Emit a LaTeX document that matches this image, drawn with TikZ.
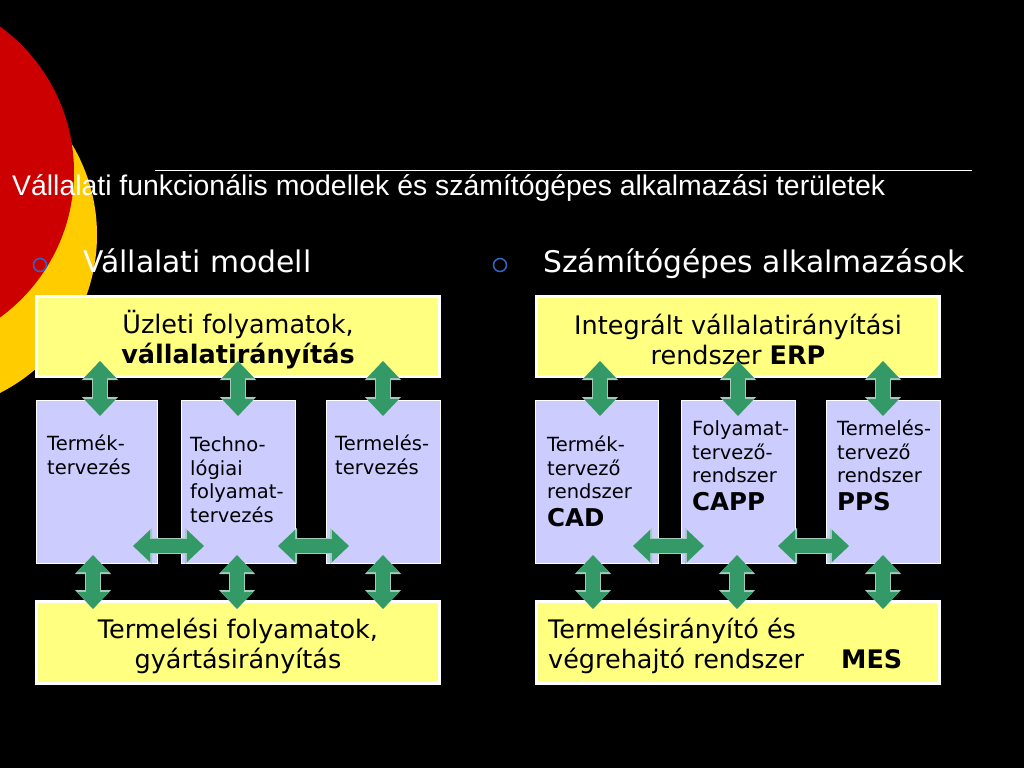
\documentclass[tikz,border=0pt]{standalone}
\usepackage{fontspec}
\setmainfont{DejaVu Sans}
\newfontfamily\titlefont{Liberation Sans}
\usetikzlibrary{arrows.meta,calc}
\definecolor{redc}{RGB}{204,0,0}
\definecolor{goldc}{RGB}{255,204,0}
\definecolor{boxy}{RGB}{255,255,128}
\definecolor{boxl}{RGB}{204,204,255}
\definecolor{arrg}{RGB}{51,153,102}
\definecolor{arre}{RGB}{160,205,185}
\definecolor{bulb}{RGB}{51,102,204}
\newcommand\fbig{\fontsize{25.5}{30}\selectfont}
\newcommand\fsm{\fontsize{19.5}{23.5}\selectfont}
\newcommand\facr{\fontsize{24.5}{24.5}\selectfont\bfseries}
\begin{document}
\begin{tikzpicture}[x=1pt,y=-1pt,
 ybox/.style={draw=white, line width=3pt, fill=boxy, inner sep=0, outer sep=0},
 lbox/.style={draw=white, line width=0.6pt, fill=boxl, inner sep=0, outer sep=0, minimum height=163pt},
 stxt/.style={inner sep=0, text=black, align=left, font=\fsm, anchor=base west},
 btxt/.style={inner sep=0, text=black, font=\fbig},
 biarr/.style={draw=arrg, line width=14pt,
   arrows={Triangle[length=17pt,width=31pt]-Triangle[length=17pt,width=31pt]},
   preaction={draw=arre, line width=16pt,
     arrows={Triangle[length=19pt,width=35pt]-Triangle[length=19pt,width=35pt]}}},
 bul/.style={circle, draw=bulb, line width=1.5pt, minimum size=13pt, inner sep=0},
]
\useasboundingbox (0,0) rectangle (1024,768);
\clip (0,0) rectangle (1024,768);
\fill[black] (0,0) rectangle (1024,768);
% decorative circles
\fill[goldc] (-80,235) circle[radius=177];
\fill[redc] (-106,172) circle[radius=180];

% title
\draw[white, line width=1pt] (155,170) -- (972,170);
\node[anchor=base west, inner sep=0, text=white, font={\titlefont\fontsize{28.4}{34}\selectfont}] (title) at (12,195)
  {Vállalati funkcionális modellek és számítógépes alkalmazási területek};

% bullets
\node[bul] (bul1) at (40,265) {};
\node[anchor=base west, inner sep=0, text=white, font={\fontsize{29.8}{34}\selectfont}] (bt1) at (83,272) {Vállalati modell};
\node[bul] (bul2) at (500,265) {};
\node[anchor=base west, inner sep=0, text=white, font={\fontsize{29.8}{34}\selectfont}] (bt2) at (543,272) {Számítógépes alkalmazások};

% ---------- left diagram ----------
\node[ybox, minimum width=403pt, minimum height=80pt] (tl) at (238,336.5) {};
\node[lbox, minimum width=121pt] (b1) at (96.5,481.5) {};
\node[lbox, minimum width=114pt] (b2) at (238,481.5) {};
\node[lbox, minimum width=114pt] (b3) at (383,481.5) {};
\node[ybox, minimum width=403pt, minimum height=82pt] (bl) at (238,642.5) {};

\node[btxt, align=center] (tlt) at ($(tl.center)+(0,3)$) {Üzleti folyamatok,\\\textbf{vállalatirányítás}};
\node[stxt] (b1t) at ($(b1.north west)+(11,74)$) {Termék-\\tervezés};
\node[stxt] (b2t) at ($(b2.north west)+(9,122)$) {Techno-\\lógiai\\folyamat-\\tervezés};
\node[stxt] (b3t) at ($(b3.north west)+(9,74)$) {Termelés-\\tervezés};
\node[btxt, align=center] (blt) at ($(bl.center)+(0,3)$) {Termelési folyamatok,\\gyártásirányítás};

\draw[biarr] ($(tl.south -| b1.north)+(3.5,-15.5)$) -- ($(b1.north)+(3.5,16)$);
\draw[biarr] ($(tl.south -| b2.north)+(0,-15.5)$) -- ($(b2.north)+(0,16)$);
\draw[biarr] ($(tl.south -| b3.north)+(0,-15.5)$) -- ($(b3.north)+(0,16)$);
\draw[biarr] ($(b1.south)+(-3.5,-8)$) -- ($(bl.north -| b1.south)+(-3.5,7.5)$);
\draw[biarr] ($(b2.south)+(-1,-8)$) -- ($(bl.north -| b2.south)+(-1,7.5)$);
\draw[biarr] ($(b3.south)+(0,-8)$) -- ($(bl.north -| b3.south)+(0,7.5)$);
\draw[biarr] ($(b1.south east)+(-24,-17)$) -- ($(b2.south west)+(23,-17)$);
\draw[biarr] ($(b2.south east)+(-17,-17)$) -- ($(b3.south west)+(23,-17)$);

% ---------- right diagram ----------
\node[ybox, minimum width=403pt, minimum height=80pt] (tr) at (738,336.5) {};
\node[lbox, minimum width=123pt] (c1) at (596.5,481.5) {};
\node[lbox, minimum width=114pt] (c2) at (738,481.5) {};
\node[lbox, minimum width=114pt] (c3) at (883,481.5) {};
\node[ybox, minimum width=403pt, minimum height=82pt] (br) at (738,642.5) {};

\node[btxt, align=center] (trt) at ($(tr.center)+(0,3)$) {Integrált vállalatirányítási\\rendszer \textbf{ERP}};
\node[stxt] (c1t) at ($(c1.north west)+(12,126)$) {Termék-\\tervező\\rendszer\\[4pt]{\facr CAD}};
\node[stxt] (c2t) at ($(c2.north west)+(11,110)$) {Folyamat-\\tervező-\\rendszer\\[4pt]{\facr CAPP}};
\node[stxt] (c3t) at ($(c3.north west)+(11,110)$) {Termelés-\\tervező\\rendszer\\[4pt]{\facr PPS}};
\node[btxt, align=left, anchor=west] (brt) at ($(br.west)+(11.5,3)$) {Termelésirányító és\\végrehajtó rendszer\hspace{37pt}\textbf{MES}};

\draw[biarr] ($(tr.south -| c1.north)+(3.5,-15.5)$) -- ($(c1.north)+(3.5,16)$);
\draw[biarr] ($(tr.south -| c2.north)+(0,-15.5)$) -- ($(c2.north)+(0,16)$);
\draw[biarr] ($(tr.south -| c3.north)+(0,-15.5)$) -- ($(c3.north)+(0,16)$);
\draw[biarr] ($(c1.south)+(-3.5,-8)$) -- ($(br.north -| c1.south)+(-3.5,7.5)$);
\draw[biarr] ($(c2.south)+(-1,-8)$) -- ($(br.north -| c2.south)+(-1,7.5)$);
\draw[biarr] ($(c3.south)+(0,-8)$) -- ($(br.north -| c3.south)+(0,7.5)$);
\draw[biarr] ($(c1.south east)+(-25,-17)$) -- ($(c2.south west)+(23,-17)$);
\draw[biarr] ($(c2.south east)+(-17,-17)$) -- ($(c3.south west)+(23,-17)$);
\end{tikzpicture}
\end{document}
